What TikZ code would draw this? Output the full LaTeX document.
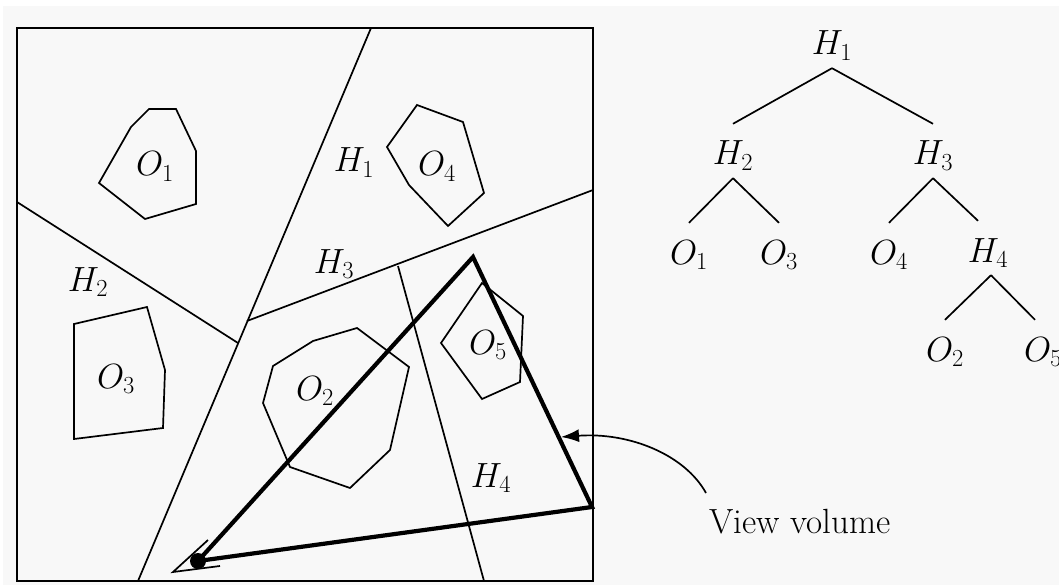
\RequirePackage{fix-cm}
\documentclass[tikz,border=0pt]{standalone}
\usetikzlibrary{arrows.meta}
\definecolor{bg}{RGB}{248,248,248}
\begin{document}
\begin{tikzpicture}[x=1pt,y=-1pt,
  thinline/.style={line width=1.7pt,line join=miter},
  frameline/.style={line width=2.4pt},
  viewline/.style={line width=4.2pt,line join=miter},
  lab/.style={anchor=base,inner sep=0pt,font=\fontsize{35}{40}\selectfont},
  tn/.style={anchor=base,inner sep=0pt,text height=41pt,text depth=13pt,font=\fontsize{35}{40}\selectfont}]
\useasboundingbox (0,0) rectangle (1059,585);
\fill[bg] (3,6) rectangle (1059,585);

% frame
\draw[frameline] (17,28) rectangle (593,581);

% partition lines
\coordinate (h1a) at (371,28);  \coordinate (h1b) at (138,581);
\coordinate (h2a) at (17,202);  \coordinate (h2b) at (238,343);
\coordinate (h3a) at (247,321); \coordinate (h3b) at (593,190);
\coordinate (h4a) at (398,266); \coordinate (h4b) at (484,581);
\draw[thinline] (h1a) -- (h1b);
\draw[thinline] (h2a) -- (h2b);
\draw[thinline] (h3a) -- (h3b);
\draw[thinline] (h4a) -- (h4b);

% objects
\draw[thinline] (149,109) -- (176,109) -- (196,151) -- (196,204) -- (145,219) -- (99,183) -- (131,127) -- cycle;
\draw[thinline] (417,105) -- (463,122) -- (484,193) -- (448,226) -- (409,185) -- (387,147) -- cycle;
\draw[thinline] (74,324) -- (147,307) -- (165,370) -- (163,428) -- (74,439) -- cycle;
\draw[thinline] (273,366) -- (313,341) -- (357,328) -- (409,367) -- (390,450) -- (350,488) -- (290,467) -- (263,403) -- cycle;
\draw[thinline] (482,283) -- (523,316) -- (520,382) -- (482,399) -- (441,343) -- cycle;

% labels in the plan
\node[lab] (lO1) at (155,176) {$O_1$};
\node[lab] (lO4) at (437,176) {$O_4$};
\node[lab] (lH1) at (354,172) {$H_1$};
\node[lab] (lH2) at (88,291) {$H_2$};
\node[lab] (lO3) at (116,388) {$O_3$};
\node[lab] (lH3) at (334,273) {$H_3$};
\node[lab] (lO2) at (315,400) {$O_2$};
\node[lab] (lO5) at (488,354) {$O_5$};
\node[lab] (lH4) at (491,487) {$H_4$};

% view volume
\coordinate (eye) at (198,561);
\coordinate (apex) at (473,257);
\coordinate (rt) at (592,507);
\draw[viewline] (eye) -- (apex) -- (rt) -- cycle;
\fill (eye) circle (8pt);
\coordinate (e0) at (173,572);
\coordinate (e1) at (220,566);
\coordinate (e2) at (208,540);
\draw[thinline] (e1) -- (e0) -- (e2);

% annotation
\node[lab,anchor=base west] (vv) at (709,533) {View volume};
\coordinate (vvs) at (706,493);
\coordinate (vvt) at (561,437);
\draw[thinline,-{Latex[length=18pt,width=13pt]}] (vvs) .. controls (685,455) and (630,432) .. (vvt);

% tree
\node[tn] (t1) at (832,55) {$H_1$};
\node[tn] (t2) at (733,165) {$H_2$};
\node[tn] (t3) at (933,165) {$H_3$};
\node[tn] (t4) at (689,264) {$O_1$};
\node[tn] (t5) at (779,264) {$O_3$};
\node[tn] (t6) at (889,264) {$O_4$};
\node[tn] (t7) at (988,262) {$H_4$};
\node[tn] (t8) at (945,361) {$O_2$};
\node[tn] (t9) at (1043,361) {$O_5$};
\draw[thinline] (t1.south) -- (t2.north);
\draw[thinline] (t1.south) -- (t3.north);
\draw[thinline] (t2.south) -- (t4.north);
\draw[thinline] (t2.south) -- (t5.north);
\draw[thinline] (t3.south) -- (t6.north);
\draw[thinline] (t3.south) -- ([xshift=-10pt]t7.north);
\draw[thinline] ([xshift=3pt]t7.south) -- (t8.north);
\draw[thinline] ([xshift=3pt]t7.south) -- ([xshift=-8pt]t9.north);
\end{tikzpicture}
\end{document}
